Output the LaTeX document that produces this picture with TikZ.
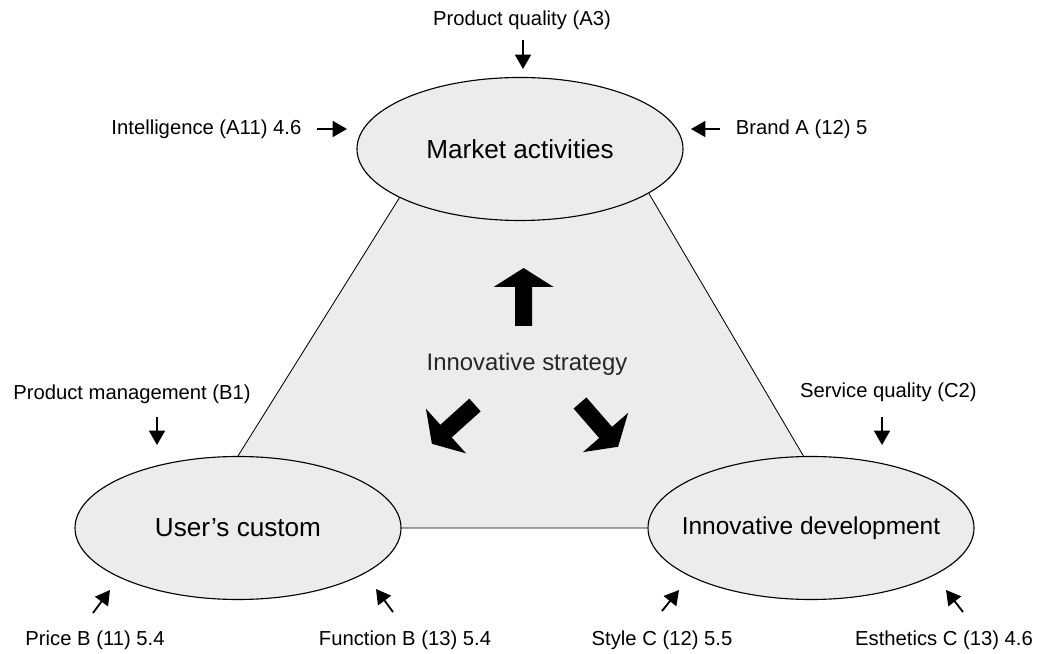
\documentclass[tikz,border=0pt]{standalone}
\usepackage{fontspec}
\setmainfont{Liberation Sans}
\usetikzlibrary{arrows.meta,backgrounds,shapes.geometric}
\tikzset{
    EL/.style ={ellipse,minimum width = 8.15cm, minimum height = 3.575cm, draw, line width=0.8pt, fill=gray!15,
                label={[font=\fontsize{18.6}{22}\selectfont]center:#1}},
    LB/.style ={font=\fontsize{14.4}{17}\selectfont, inner sep=0pt},
    AR/.style ={line width=1.3pt, -{Triangle[length=0.36cm,width=0.4cm]}},
    BA/.pic ={\fill (-0.2125,0) -- (-0.2125,0.975) -- (-0.75,0.975) -- (0,1.45) -- (0.75,0.975) -- (0.2125,0.975) -- (0.2125,0) -- cycle;}}

\begin{document}
\begin{tikzpicture}
    \useasboundingbox (0,0) rectangle (25.975,-16.35);
        \node[EL={Market activities}](1) at (13.0,-3.725) {};
        \node[EL={User’s custom}](2) at (5.95,-13.2) {};
        \node[EL={\fontsize{17.4}{21}\selectfont Innovative development}](3) at (20.275,-13.2) {};
        \begin{scope}[on background layer]
            \fill[gray!15] (1.202) -- (1.341) -- (3.96) -- (3.center) -- (2.center) -- (2.90) -- cycle;
        \end{scope}
        \draw[line width=0.6pt] (1.202) -- (2.90) (1.341) -- (3.96) (2.east) -- (3.west);
        % labels
        \node[LB](4)  at (13.05,-0.5) {Product quality (A3)};
        \node[LB](5)  at (5.16,-3.225) {Intelligence (A11) 4.6};
        \node[LB](6)  at (20.04,-3.225) {Brand A (12) 5};
        \node[LB](7)  at (3.3,-9.85) {Product management (B1)};
        \node[LB](8)  at (22.21,-9.8) {Service quality (C2)};
        \node[LB](9)  at (2.375,-16.0) {Price B (11) 5.4};
        \node[LB](10) at (10.125,-16.0) {Function B (13) 5.4};
        \node[LB](11) at (16.55,-16.0) {Style C (12) 5.5};
        \node[LB](12) at (23.6,-16.0) {Esthetics C (13) 4.6};
        % arrow ends
        \coordinate (4a) at (13.075,-1.0);    \coordinate (4b) at (13.075,-1.725);
        \coordinate (5a) at (7.925,-3.225);   \coordinate (5b) at (8.675,-3.225);
        \coordinate (6a) at (18.0,-3.225);    \coordinate (6b) at (17.275,-3.225);
        \coordinate (7a) at (3.925,-10.425);  \coordinate (7b) at (3.925,-11.125);
        \coordinate (8a) at (22.05,-10.425);  \coordinate (8b) at (22.05,-11.125);
        \coordinate (9a) at (2.325,-15.325);  \coordinate (9b) at (2.75,-14.75);
        \coordinate (10a) at (9.825,-15.3);   \coordinate (10b) at (9.4,-14.725);
        \coordinate (11a) at (16.55,-15.275); \coordinate (11b) at (16.975,-14.75);
        \coordinate (12a) at (24.075,-15.3);  \coordinate (12b) at (23.65,-14.75);
        \foreach \i in {4,...,12}
            \draw[AR] (\i a) -- (\i b);
        % strategy
        \pic[rotate=0] at (13.09,-8.15) {BA};
        \pic[rotate=132] at (11.875,-10.125) {BA};
        \pic[rotate=-139] at (14.5,-10.075) {BA};
        \node[font=\fontsize{17}{20}\selectfont,text=black!85](13) at (13.175,-9.1) {Innovative strategy};
\end{tikzpicture}
\end{document}
